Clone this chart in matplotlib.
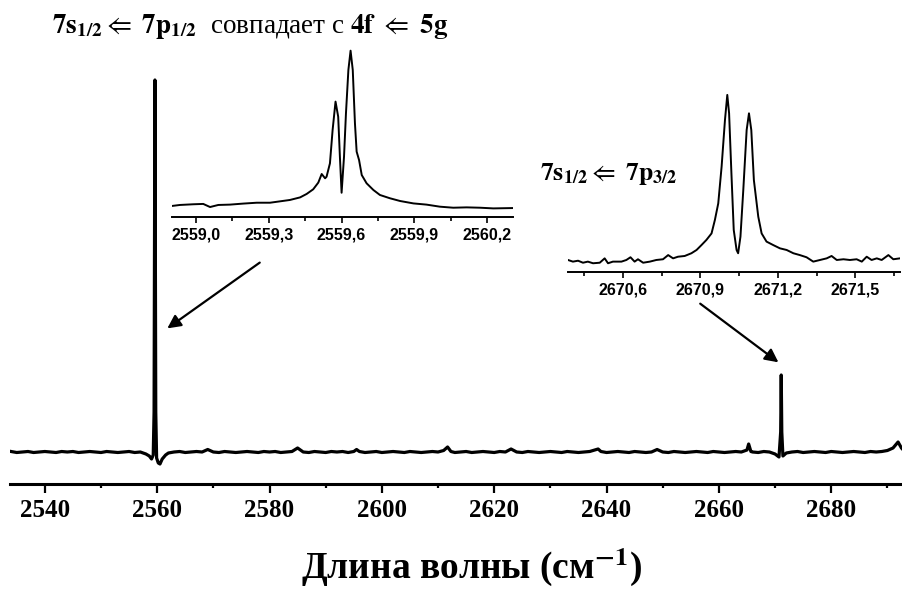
import matplotlib
matplotlib.use("Agg")
import matplotlib.pyplot as plt
from matplotlib.ticker import MultipleLocator, FuncFormatter

plt.rcParams['mathtext.fontset'] = 'stix'

# full scan, wavenumber (cm^-1) vs signal (arb. units)
main_x = [2534, 2535, 2536, 2537, 2538, 2539, 2540, 2541, 2542, 2543,
          2544, 2545, 2546, 2547, 2548, 2549, 2550, 2551, 2552, 2553,
          2554, 2555, 2556, 2557, 2558, 2558.6, 2559.0, 2559.3, 2559.45, 2559.6,
          2559.75, 2559.9, 2560.2, 2560.5, 2560.9, 2561.5, 2562, 2563, 2564, 2565,
          2566, 2567, 2568, 2569, 2570, 2571, 2572, 2573, 2574, 2575,
          2576, 2577, 2578, 2579, 2580, 2581, 2582, 2583, 2584, 2585,
          2586, 2587, 2588, 2589, 2590, 2591, 2592, 2593, 2594, 2595,
          2595.5, 2596, 2597, 2598, 2599, 2600, 2601, 2602, 2603, 2604,
          2605, 2606, 2607, 2608, 2609, 2610, 2611, 2611.7, 2612.3, 2613,
          2614, 2615, 2616, 2617, 2618, 2619, 2620, 2621, 2622, 2623,
          2624, 2625, 2626, 2627, 2628, 2629, 2630, 2631, 2632, 2633,
          2634, 2635, 2636, 2637, 2638.5, 2639, 2640, 2641, 2642, 2643,
          2644, 2645, 2646, 2647, 2648, 2649, 2650, 2651, 2652, 2653,
          2654, 2655, 2656, 2657, 2658, 2659, 2660, 2661, 2662, 2663,
          2664, 2665, 2665.3, 2665.7, 2666, 2667, 2668, 2669, 2670, 2670.7,
          2671.0, 2671.1, 2671.2, 2671.4, 2672, 2673, 2674, 2675, 2676, 2677,
          2678, 2679, 2680, 2681, 2682, 2683, 2684, 2685, 2686, 2687,
          2688, 2689, 2690, 2691, 2691.9, 2692.5, 2693]
main_y = [0.005, -0.005, 0.000, 0.005, -0.005, 0.000, 0.005, 0.000, -0.005, 0.005,
          0.000, 0.005, -0.005, 0.000, 0.005, 0.000, -0.005, 0.005, 0.000, -0.005,
          0.000, 0.005, -0.005, 0.000, -0.02, -0.04, -0.07, -0.03, 0.40, 3.72,
          0.40, -0.06, -0.11, -0.12, -0.07, -0.03, -0.01, 0.000, 0.005, -0.005,
          0.000, 0.005, 0.000, 0.025, 0.000, -0.005, 0.005, 0.000, -0.005, 0.000,
          0.005, 0.000, -0.005, 0.005, 0.000, 0.005, -0.005, 0.000, 0.005, 0.04,
          0.000, -0.005, 0.005, 0.000, -0.005, 0.005, 0.000, 0.005, -0.005, 0.005,
          0.025, 0.005, -0.005, 0.000, 0.005, -0.005, 0.000, 0.005, 0.000, -0.005,
          0.005, 0.000, -0.005, 0.000, 0.005, 0.000, 0.015, 0.05, 0.005, -0.005,
          0.000, 0.005, -0.005, 0.000, 0.005, 0.000, -0.005, 0.005, 0.000, 0.03,
          0.000, -0.005, 0.005, 0.000, -0.005, 0.000, 0.005, 0.000, -0.005, 0.005,
          0.000, -0.005, 0.000, 0.005, 0.03, 0.005, -0.005, 0.000, 0.005, 0.000,
          -0.005, 0.005, 0.000, -0.005, 0.000, 0.025, 0.000, -0.005, 0.005, 0.000,
          -0.005, 0.000, 0.005, 0.000, -0.005, 0.005, 0.000, -0.005, 0.000, 0.005,
          0.000, 0.02, 0.08, 0.005, 0.000, -0.005, 0.005, 0.000, -0.02, -0.05,
          0.20, 0.77, 0.20, -0.04, -0.01, 0.000, 0.005, -0.005, 0.000, 0.005,
          0.000, -0.005, 0.005, 0.000, -0.005, 0.000, 0.005, 0.000, -0.005, 0.005,
          0.000, 0.005, 0.015, 0.04, 0.10, 0.04, 0.01]

# zoomed scan of the 7s1/2 <- 7p1/2 line
zoom1_x = [2558.900, 2558.934, 2558.989, 2559.030, 2559.058, 2559.092, 2559.140,
           2559.195, 2559.250, 2559.305, 2559.346, 2559.387, 2559.429, 2559.456,
           2559.483, 2559.504, 2559.518, 2559.532, 2559.538, 2559.552, 2559.563,
           2559.575, 2559.586, 2559.593, 2559.600, 2559.610, 2559.618, 2559.628,
           2559.637, 2559.646, 2559.655, 2559.662, 2559.672, 2559.683, 2559.703,
           2559.731, 2559.758, 2559.799, 2559.841, 2559.896, 2559.950, 2560.005,
           2560.060, 2560.115, 2560.170, 2560.225, 2560.305]
zoom1_y = [0.064, 0.070, 0.074, 0.076, 0.058, 0.070, 0.072,
           0.078, 0.083, 0.083, 0.091, 0.099, 0.114, 0.134,
           0.161, 0.200, 0.250, 0.225, 0.234, 0.312, 0.506,
           0.671, 0.583, 0.351, 0.141, 0.351, 0.603, 0.855,
           0.967, 0.855, 0.545, 0.380, 0.331, 0.244, 0.196,
           0.157, 0.128, 0.109, 0.093, 0.079, 0.072, 0.060,
           0.054, 0.056, 0.054, 0.050, 0.052]

# zoomed scan of the 7s1/2 <- 7p3/2 line
zoom2_x = [2670.387, 2670.406, 2670.426, 2670.445, 2670.464, 2670.484, 2670.510,
           2670.529, 2670.542, 2670.561, 2670.594, 2670.613, 2670.629, 2670.645,
           2670.658, 2670.678, 2670.704, 2670.729, 2670.755, 2670.775, 2670.794,
           2670.813, 2670.839, 2670.865, 2670.885, 2670.904, 2670.923, 2670.943,
           2670.956, 2670.969, 2670.982, 2670.995, 2671.004, 2671.011, 2671.020,
           2671.029, 2671.040, 2671.046, 2671.055, 2671.066, 2671.079, 2671.088,
           2671.097, 2671.107, 2671.124, 2671.137, 2671.156, 2671.182, 2671.208,
           2671.234, 2671.260, 2671.285, 2671.311, 2671.337, 2671.363, 2671.389,
           2671.408, 2671.428, 2671.454, 2671.479, 2671.505, 2671.525, 2671.544,
           2671.563, 2671.583, 2671.602, 2671.628, 2671.647, 2671.673]
zoom2_y = [0.066, 0.057, 0.062, 0.051, 0.057, 0.048, 0.051,
           0.075, 0.048, 0.057, 0.057, 0.066, 0.081, 0.057,
           0.070, 0.051, 0.057, 0.066, 0.070, 0.093, 0.075,
           0.084, 0.088, 0.103, 0.121, 0.148, 0.176, 0.212,
           0.286, 0.377, 0.579, 0.835, 0.973, 0.872, 0.542,
           0.231, 0.121, 0.103, 0.194, 0.451, 0.780, 0.872,
           0.780, 0.505, 0.304, 0.212, 0.167, 0.148, 0.130,
           0.121, 0.103, 0.093, 0.081, 0.057, 0.066, 0.075,
           0.088, 0.066, 0.070, 0.066, 0.070, 0.057, 0.084,
           0.066, 0.075, 0.066, 0.093, 0.070, 0.075]

W, H = 902, 592


def px_box(x0, y0, x1, y1):
    # pixel box (origin top-left) -> figure fraction rect
    return [x0 / W, 1 - y1 / H, (x1 - x0) / W, (y1 - y0) / H]


def comma_fmt(v, pos):
    return f"{v:.1f}".replace('.', ',')


def strip_axes(a):
    for side in ('left', 'right', 'top'):
        a.spines[side].set_visible(False)
    a.set_yticks([])
    a.patch.set_alpha(0)


fig = plt.figure(figsize=(W / 100, H / 100), dpi=100)

ax = fig.add_axes(px_box(10, 0, 902, 484))
ax.plot(main_x, main_y, color='black', lw=2.3)
ax.set_xlim(2533.8, 2692.6)
ax.set_ylim(-0.32, 4.52)
strip_axes(ax)
ax.spines['bottom'].set_linewidth(2.2)
ax.xaxis.set_major_locator(MultipleLocator(20))
ax.xaxis.set_minor_locator(MultipleLocator(10))
ax.tick_params(axis='x', which='major', length=6.5, width=1.6, pad=4)
ax.tick_params(axis='x', which='minor', length=3.2, width=1.6)
for lab in ax.get_xticklabels():
    lab.set_fontfamily('Liberation Serif')
    lab.set_fontweight('bold')
    lab.set_fontsize(18)
ax.set_xlabel(r"Длина волны (см$^{\mathbf{-1}}$)", fontfamily='Liberation Serif',
              fontweight='bold', fontsize=27, va='baseline')
ax.xaxis.set_label_coords((472 - 10) / 892, (484 - 579) / 484)

insets = [
    (px_box(171.7, 45, 512.7, 217), zoom1_x, zoom1_y, (2558.900, 2560.305), 2559.0),
    (px_box(568, 90, 900, 272), zoom2_x, zoom2_y, (2670.387, 2671.673), 2670.6),
]
for rect, xs, ys, xlim, first in insets:
    ia = fig.add_axes(rect)
    ia.plot(xs, ys, color='black', lw=1.4)
    ia.set_xlim(*xlim)
    ia.set_ylim(0, 1)
    strip_axes(ia)
    ia.spines['bottom'].set_linewidth(1.4)
    ia.xaxis.set_major_locator(MultipleLocator(0.3, offset=first % 0.3))
    ia.xaxis.set_minor_locator(MultipleLocator(0.15, offset=first % 0.15))
    ia.xaxis.set_major_formatter(FuncFormatter(comma_fmt))
    ia.tick_params(axis='x', which='major', length=4.3, width=1.2, pad=3)
    ia.tick_params(axis='x', which='minor', length=3.0, width=1.2)
    for lab in ia.get_xticklabels():
        lab.set_fontfamily('Liberation Sans')
        lab.set_fontweight('bold')
        lab.set_fontsize(11.5)

# transition labels
fig.text(52 / W, 1 - 33 / H,
         r"$\mathbf{7s_{1/2}}$$\Leftarrow$ $\mathbf{7p_{1/2}}$  совпадает с "
         r"$\mathbf{4f}$ $\Leftarrow$ $\mathbf{5g}$",
         fontfamily='Liberation Serif', fontsize=19.5, va='baseline')
fig.text(540 / W, 1 - 180 / H,
         r"$\mathbf{7s_{1/2}}$$\Leftarrow$ $\mathbf{7p_{3/2}}$",
         fontfamily='Liberation Serif', fontsize=18.5, va='baseline')

# arrows from the zoomed scans to the lines
arrow = dict(arrowstyle='-|>', color='black', lw=1.6, mutation_scale=20)
ax.annotate('', xy=(2561.4, 1.22), xycoords='data',
            xytext=(262, H - 261), textcoords='figure pixels', arrowprops=arrow)
ax.annotate('', xy=(2671.0, 0.88), xycoords='data',
            xytext=(698, H - 302), textcoords='figure pixels', arrowprops=arrow)

fig.savefig('out.png', dpi=100)
